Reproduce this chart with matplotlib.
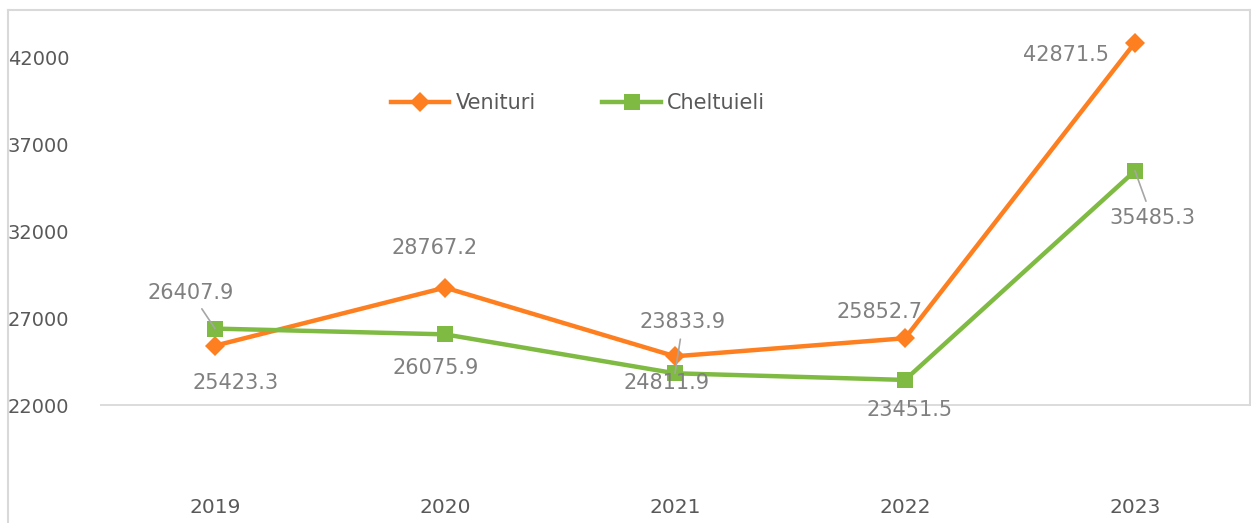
import matplotlib.pyplot as plt
from matplotlib.lines import Line2D

# ── data ──────────────────────────────────────────────────────────────────
years = ['2019', '2020', '2021', '2022', '2023']
venituri = [25423.3, 28767.2, 24811.9, 25852.7, 42871.5]
cheltuieli = [26407.9, 26075.9, 23833.9, 23451.5, 35485.3]
y_ticks = [22000, 27000, 32000, 37000, 42000]

# label offsets in pixels (label centre relative to the point)
ven_offsets = [(21, -37), (-10, 40), (-8, -27), (-25, 26), (-69, -12)]
chel_offsets = [(-24, 36), (-9, -34), (8, 51), (5, -30), (17, -47)]
chel_leader = [True, False, True, False, True]

ORANGE = '#FD7F20'
GREEN = '#7FBA42'
TXT = '#595959'
LBL = '#808080'
BORDER = '#D9D9D9'

W, H = 1251, 523
fig = plt.figure(figsize=(W / 100, H / 100), dpi=100)
plt.rcParams['font.family'] = 'DejaVu Sans'

# axes: x 100..1250 px, y 17000 at 492 px, 44000 at ~23 px
ax = fig.add_axes([100 / W, 1 - 492 / H, 1150 / W, (492 - 23) / H])
x = list(range(len(years)))

ax.plot(x, venituri, color=ORANGE, lw=3.2, marker='D', markersize=10,
        markeredgewidth=0, label='Venituri', zorder=3)
ax.plot(x, cheltuieli, color=GREEN, lw=3.2, marker='s', markersize=12,
        markeredgewidth=0, label='Cheltuieli', zorder=3)

ax.axhline(22000, color=BORDER, lw=1.3, zorder=1)

ax.set_xlim(-0.5, 4.5)
ax.set_ylim(17000, 44000)
ax.set_yticks(y_ticks)
ax.set_yticklabels([str(t) for t in y_ticks], fontsize=14, color=TXT)
ax.set_xticks(x)
ax.set_xticklabels(years, fontsize=14.5, color=TXT)
ax.tick_params(axis='y', length=0, pad=22)
ax.tick_params(axis='x', length=0, pad=4)
for s in ax.spines.values():
    s.set_visible(False)

# data labels
for i, v in enumerate(venituri):
    ax.annotate(f'{v:.1f}', (i, v), xytext=ven_offsets[i],
                textcoords='offset pixels', ha='center', va='center',
                fontsize=15, color=LBL, zorder=4)
for i, v in enumerate(cheltuieli):
    props = None
    if chel_leader[i]:
        props = dict(arrowstyle='-', color='#A6A6A6', lw=1.2,
                     shrinkA=3, shrinkB=0)
    ax.annotate(f'{v:.1f}', (i, v), xytext=chel_offsets[i],
                textcoords='offset pixels', ha='center', va='center',
                fontsize=15, color=LBL, arrowprops=props, zorder=4)

fig.legend(loc='center', bbox_to_anchor=(578 / W, 1 - 103 / H), ncol=2,
           frameon=False, fontsize=15, labelcolor=TXT, handlelength=2.8,
           columnspacing=3.2, handletextpad=0.3)

# outer chart border
for (x0, y0, x1, y1) in [(8, 10, 8, 523), (8, 10, 1250, 10), (1250, 10, 1250, 405)]:
    fig.add_artist(Line2D([x0 / W, x1 / W], [1 - y0 / H, 1 - y1 / H],
                          color=BORDER, lw=1.5, transform=fig.transFigure))

fig.savefig('out.png', dpi=100)
